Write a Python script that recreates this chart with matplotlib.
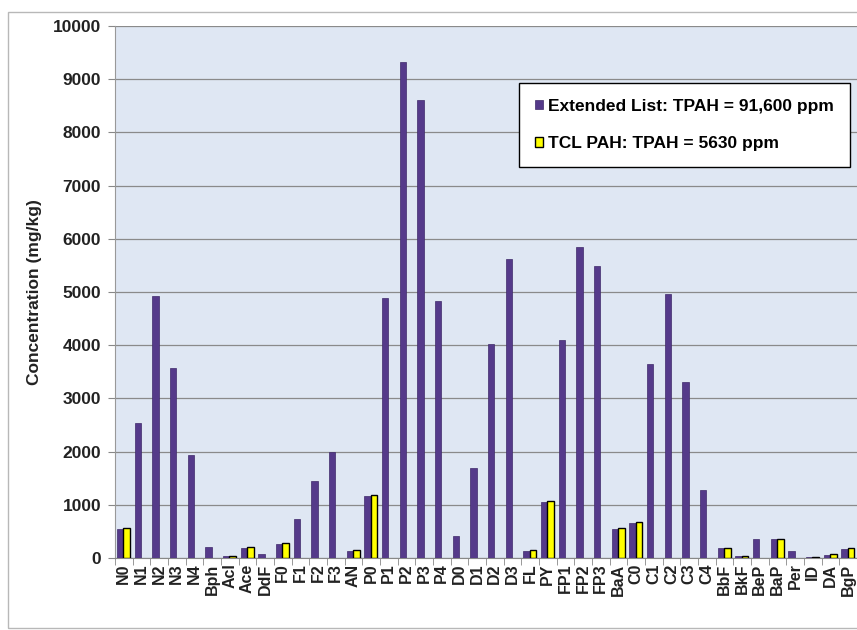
import matplotlib
matplotlib.use("Agg")
import matplotlib.pyplot as plt
from matplotlib.patches import Rectangle
import numpy as np

plt.rcParams['font.family'] = ['Liberation Sans', 'DejaVu Sans']

categories = ["N0", "N1", "N2", "N3", "N4", "Bph", "Acl", "Ace", "DdF", "F0", "F1", "F2", "F3",
              "AN", "P0", "P1", "P2", "P3", "P4", "D0", "D1", "D2", "D3", "FL", "PY", "FP1",
              "FP2", "FP3", "BaA", "C0", "C1", "C2", "C3", "C4", "BbF", "BkF", "BeP", "BaP",
              "Per", "ID", "DA", "BgP"]
extended = [550, 2530, 4920, 3580, 1940, 200, 30, 190, 70, 270, 740, 1440, 2000,
            140, 1170, 4890, 9320, 8600, 4840, 420, 1700, 4020, 5620, 140, 1060, 4090,
            5840, 5490, 550, 650, 3650, 4970, 3310, 1270, 180, 30, 360, 350,
            140, 20, 60, 170]
tcl = [560, 0, 0, 0, 0, 0, 40, 200, 0, 290, 0, 0, 0,
       150, 1180, 0, 0, 0, 0, 0, 0, 0, 0, 150, 1080, 0,
       0, 0, 560, 670, 0, 0, 0, 0, 190, 30, 0, 360,
       0, 20, 80, 180]
yticks = [0, 1000, 2000, 3000, 4000, 5000, 6000, 7000, 8000, 9000, 10000]

fig = plt.figure(figsize=(8.57, 6.3), dpi=100)
fig.patch.set_facecolor("white")
fig.patches.append(Rectangle((8/857, 2/630), 1.2, 616/630, transform=fig.transFigure,
                             fill=False, edgecolor="#b8b8b8", linewidth=1.0))

ax = fig.add_axes([115/857, 1 - 558/630, 742/857, (558 - 26)/630])
ax.set_facecolor("#dfe7f3")

x = np.arange(len(categories))
w = 0.37
ax.bar(x - w / 2 - 0.02, extended, width=w, color="#553a8a", edgecolor="#3f2a6a",
       linewidth=0.5, zorder=3, label="Extended List: TPAH = 91,600 ppm")
tcl_arr = np.array(tcl, dtype=float)
mask = tcl_arr > 0
ax.bar(x[mask] + w / 2 - 0.02, tcl_arr[mask], width=w, color="#ffff00", edgecolor="black",
       linewidth=1.0, zorder=3, label="TCL PAH: TPAH = 5630 ppm")

ax.set_xlim(-0.5, len(categories) - 0.5)
ax.set_ylim(0, 10000)
ax.set_yticks(yticks)
ax.set_yticklabels([str(v) for v in yticks], fontsize=12.5, fontweight="bold", color="#222222")
ax.set_xticks(x)
ax.set_xticklabels(categories, rotation=90, fontsize=11.5, fontweight="bold", color="#222222")
ax.set_xticks(np.arange(-0.5, len(categories), 1), minor=True)
ax.tick_params(axis="x", which="major", length=0, pad=4)
ax.tick_params(axis="x", which="minor", length=5, color="#888888")
ax.tick_params(axis="y", length=5, color="#888888", pad=5)
ax.grid(axis="y", color="#8a8a8a", linewidth=0.9, zorder=1)
for s in ["top", "right"]:
    ax.spines[s].set_visible(False)
ax.spines["left"].set_color("#999999")
ax.spines["bottom"].set_color("#888888")

ax.set_ylabel("Concentration (mg/kg)", fontsize=12.5, fontweight="bold", color="#222222", labelpad=8)

leg = ax.legend(loc="upper right", bbox_to_anchor=((850 - 115) / 742, 1 - (83 - 26) / 532),
                frameon=True, fancybox=False, prop={"weight": "bold", "size": 12.5},
                handlelength=0.5, handleheight=0.5, handletextpad=0.3, labelspacing=1.3,
                borderpad=0.9, borderaxespad=0)
leg.get_frame().set_edgecolor("black")
leg.get_frame().set_linewidth(1.0)
leg.get_frame().set_facecolor("white")
leg.get_frame().set_alpha(1)
leg.set_zorder(5)

fig.savefig("out.png", dpi=100)
